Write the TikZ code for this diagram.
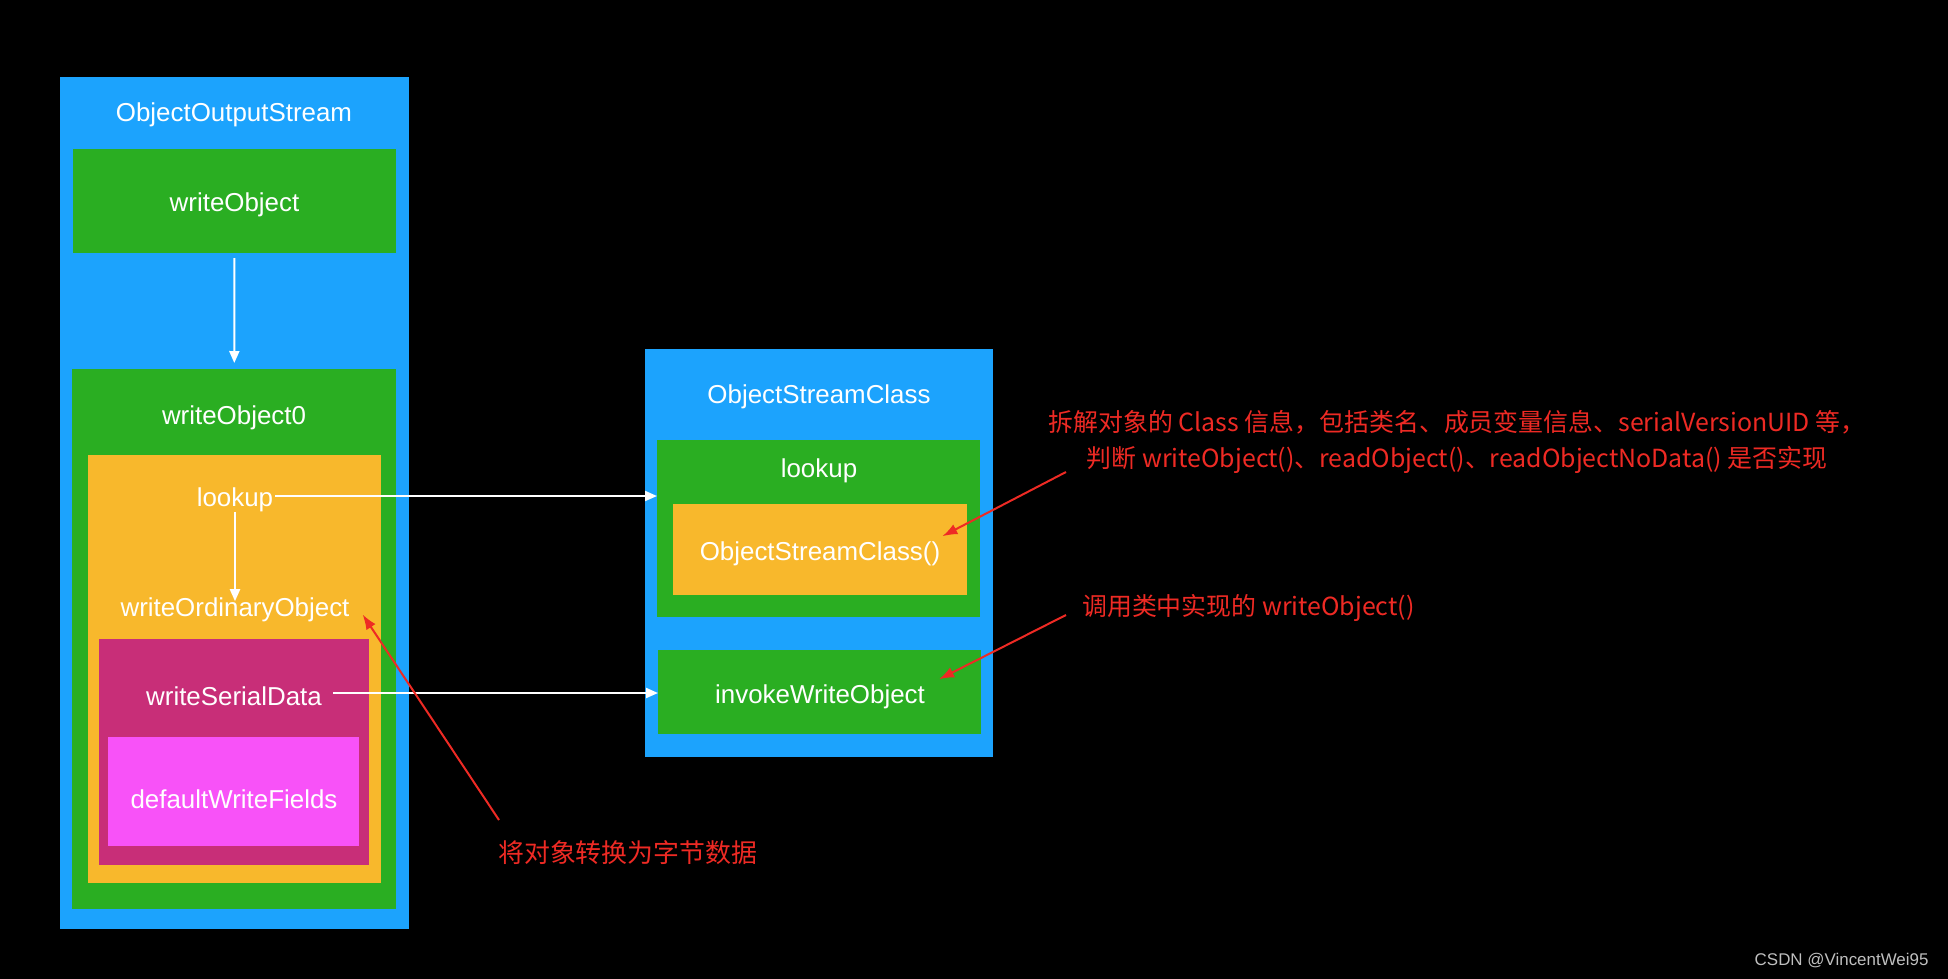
\documentclass[tikz,border=0pt]{standalone}
\usepackage{fontspec}
\setmainfont{Liberation Sans}
\newfontfamily\cjk{Noto Sans CJK SC}
\usetikzlibrary{arrows.meta}
\definecolor{streamblue}{RGB}{28,163,253}
\definecolor{callgreen}{RGB}{42,174,34}
\definecolor{lookupyellow}{RGB}{248,184,44}
\definecolor{serialred}{RGB}{200,46,120}
\definecolor{fieldpink}{RGB}{248,82,248}
\definecolor{notered}{RGB}{238,42,36}

\begin{document}
\begin{tikzpicture}[x=1bp,y=-1bp,
  box/.style={anchor=north west,inner sep=0pt,outer sep=0pt},
  lbl/.style={text=white,inner sep=2pt,yshift=-3.5bp,font=\fontsize{26}{30}\selectfont},
  notetext/.style={text=notered,inner sep=0pt,font=\cjk\fontsize{25}{36}\selectfont},
  flow/.style={draw=white,line width=2bp,-{Triangle[length=12bp,width=10bp]}},
  note/.style={draw=notered,line width=2bp,-{Latex[length=15bp,width=11bp]}}]
  \useasboundingbox (0,0) rectangle (1948,978);
  \fill[black] (-3,-3) rectangle (1951,981);
  % ObjectOutputStream
  \node[box,fill=streamblue,minimum width=349bp,minimum height=852bp] (oos) at (60,77) {};
  \node[box,fill=callgreen,minimum width=323bp,minimum height=104bp] (wo) at (73,149) {};
  \node[box,fill=callgreen,minimum width=324bp,minimum height=540bp] (wo0) at (72,369) {};
  \node[box,fill=lookupyellow,minimum width=293bp,minimum height=428bp] (ord) at (88,455) {};
  \node[box,fill=serialred,minimum width=270bp,minimum height=226bp] (ser) at (99,639) {};
  \node[box,fill=fieldpink,minimum width=251bp,minimum height=109bp] (fld) at (108,737) {};
  \node[lbl] (oosT) at (234,111) {ObjectOutputStream};
  \node[lbl] (woT) at (wo.center) {writeObject};
  \node[lbl] (wo0T) at (234,414) {writeObject0};
  \node[lbl] (lkpT) at (235,496) {lookup};
  \node[lbl] (wooT) at (235,606) {writeOrdinaryObject};
  \node[lbl] (wsdT) at (234,693) {writeSerialData};
  \node[lbl] (dwfT) at (234,796) {defaultWriteFields};
  % ObjectStreamClass
  \node[box,fill=streamblue,minimum width=348bp,minimum height=408bp] (osc) at (645,349) {};
  \node[box,fill=callgreen,minimum width=323bp,minimum height=177bp] (lk) at (657,440) {};
  \node[box,fill=lookupyellow,minimum width=294bp,minimum height=91bp] (ctor) at (673,504) {};
  \node[box,fill=callgreen,minimum width=323bp,minimum height=84bp] (iwo) at (658,650) {};
  \node[lbl] (oscT) at (819,393) {ObjectStreamClass};
  \node[lbl] (lkT) at (819,467) {lookup};
  \node[lbl] (ctorT) at (820,550) {ObjectStreamClass()};
  \node[lbl] (iwoT) at (820,693) {invokeWriteObject};
  % calls
  \draw[flow,shorten <=5bp,shorten >=6bp] (wo) -- (wo0);
  \draw[flow,shorten <=-2bp,shorten >=-6bp] (lkpT) -- (wooT);
  \draw[flow] ([yshift=3.5bp]lkpT.east) -- ([yshift=3.5bp]lkpT.east -| lk.west);
  \draw[flow] ([xshift=9bp,yshift=3.5bp]wsdT.east) -- ([yshift=3.5bp]wsdT.east -| iwo.west);
  % notes
  \node[notetext,align=center] (info) at (1457,442) {拆解对象的 Class 信息，包括类名、成员变量信息、serialVersionUID 等，\\判断 writeObject()、readObject()、readObjectNoData() 是否实现};
  \node[notetext,anchor=west] (call) at (1082,608) {调用类中实现的 writeObject()};
  \node[notetext,anchor=west,font=\cjk\fontsize{26}{30}\selectfont] (cvt) at (498,853) {将对象转换为字节数据};
  \coordinate (infoTail) at (1066,472);
  \coordinate (callTail) at (1066,615);
  \coordinate (cvtTail) at (499,820);
  \draw[note] (infoTail) -- ([yshift=3bp]ctorT.north east);
  \draw[note] (callTail) -- ([xshift=12bp,yshift=3bp]iwoT.north east);
  \draw[note] (cvtTail) -- ([shift={(11,5)}]wooT.east);
  \node[anchor=east,text=black!25!white,font=\fontsize{17}{20}\selectfont] (mark) at (1932,961) {CSDN @VincentWei95};
\end{tikzpicture}
\end{document}
